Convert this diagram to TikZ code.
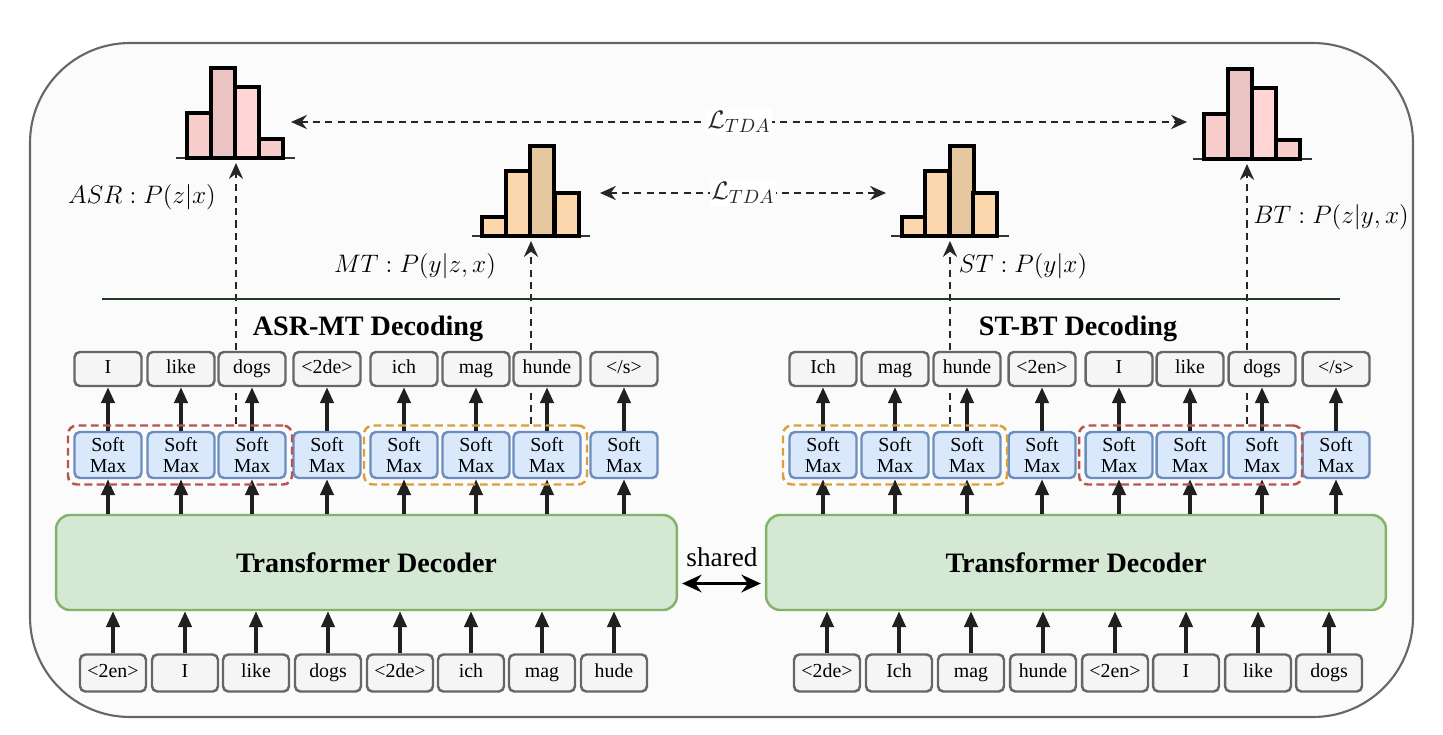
\documentclass[tikz,border=0pt]{standalone}
\usepackage{fontspec}
\setmainfont{Liberation Serif}
\usetikzlibrary{arrows.meta,positioning,calc,fit,backgrounds}

\definecolor{framefill}{HTML}{FBFBFB}
\definecolor{framedraw}{HTML}{666666}
\definecolor{tokfill}{HTML}{F5F5F5}
\definecolor{tokdraw}{HTML}{666666}
\definecolor{smfill}{HTML}{DAE8FC}
\definecolor{smdraw}{HTML}{6C8EBF}
\definecolor{decfill}{HTML}{D5E8D4}
\definecolor{decdraw}{HTML}{82B366}
\definecolor{grpred}{HTML}{B85450}
\definecolor{grporange}{HTML}{D9A03A}
\definecolor{rulegreen}{HTML}{213D21}
\definecolor{pinkA}{HTML}{F8CECC}
\definecolor{pinkB}{HTML}{EAC3C2}
\definecolor{pinkC}{HTML}{FFD5D5}
\definecolor{orangeA}{HTML}{FAD7AC}
\definecolor{orangeB}{HTML}{E6C8A0}

\begin{document}
\begin{tikzpicture}[x=0.02cm,y=-0.02cm,>={Stealth[length=9pt,width=8pt]},
	tok/.style={draw=tokdraw,fill=tokfill,line width=1.4pt,rounded corners=3pt,
		minimum width=1.34cm,minimum height=0.68cm,inner sep=0pt,
		text height=1.5ex,text depth=.3ex,
		font=\fontsize{11.3}{13}\selectfont},
	inbox/.style={tok,minimum width=1.32cm,minimum height=0.74cm},
	smbox/.style={draw=smdraw,fill=smfill,line width=1.4pt,rounded corners=3pt,
		minimum width=1.34cm,minimum height=0.92cm,inner sep=0pt,align=center,
		font=\fontsize{11.3}{12}\selectfont},
	decbox/.style={draw=decdraw,fill=decfill,line width=1.4pt,rounded corners=8pt,
		minimum height=1.9cm,font=\bfseries\fontsize{16}{19}\selectfont},
	grp/.style={dash pattern=on 4.5pt off 2.5pt,line width=1.4pt,rounded corners=5pt,inner sep=3pt},
	upar/.style={-{Triangle[length=9pt,width=7.5pt]},line width=2pt,black!88},
	dashar/.style={->,line width=1.5pt,dash pattern=on 4pt off 3pt,black!85},
	bar/.style={line width=2.2pt},
	mlab/.style={font=\fontsize{15}{18}\selectfont},
	head/.style={font=\bfseries\fontsize{16}{19}\selectfont}]
	
	\useasboundingbox (0,0) rectangle (1443,734);
	
	% ---- outer frame ----
	\begin{scope}[on background layer]
		\draw[framedraw,fill=framefill,line width=1.2pt,rounded corners=2cm]
		(30,43) rectangle (1413,717);
	\end{scope}
	
	% ---- histograms ----
	\begin{scope}[shift={(176,158)}]
		\draw[line width=1.3pt,black!80] (0,0) -- (119,0);
		\foreach \a/\h/\c in {11/45/pinkA,35/90/pinkB,59/71/pinkC,83/19/pinkA}
		\filldraw[bar,fill=\c] (\a,0) rectangle ++(24,-\h);
	\end{scope}
	\begin{scope}[shift={(1193,159)}]
		\draw[line width=1.3pt,black!80] (0,0) -- (119,0);
		\foreach \a/\h/\c in {11/45/pinkA,35/90/pinkB,59/71/pinkC,83/19/pinkA}
		\filldraw[bar,fill=\c] (\a,0) rectangle ++(24,-\h);
	\end{scope}
	\begin{scope}[shift={(472,236)}]
		\draw[line width=1.3pt,black!80] (0,0) -- (118,0);
		\foreach \a/\h/\c in {10/19/orangeA,34/65/orangeA,58/90/orangeB,83/43/orangeA}
		\filldraw[bar,fill=\c] (\a,0) rectangle ++(24,-\h);
	\end{scope}
	\begin{scope}[shift={(891,236)}]
		\draw[line width=1.3pt,black!80] (0,0) -- (118,0);
		\foreach \a/\h/\c in {11/19/orangeA,34/65/orangeA,59/90/orangeB,82/43/orangeA}
		\filldraw[bar,fill=\c] (\a,0) rectangle ++(24,-\h);
	\end{scope}
	
	% ---- arrow ends at the histograms ----
	\coordinate (asrT) at (236,163);
	\coordinate (mtT) at (531,241);
	\coordinate (stT) at (950,241);
	\coordinate (btT) at (1247,164);
	\coordinate (asrR) at (291,122);
	\coordinate (btL) at (1187,122);
	\coordinate (mtR) at (600,193);
	\coordinate (stL) at (886,193);
	
	% ---- TDA losses ----
	\draw[dash pattern=on 4pt off 3pt,line width=1.5pt,black!85,<->] (asrR) -- (btL)
	node[midway,fill=white,inner sep=1pt,mlab] (tda1) {$\mathcal{L}_{TDA}$};
	\draw[dash pattern=on 4pt off 3pt,line width=1.5pt,black!85,<->] (mtR) -- (stL)
	node[midway,fill=white,inner sep=1pt,mlab] (tda2) {$\mathcal{L}_{TDA}$};
	
	% ---- distribution labels ----
	\node[mlab] (lasr) at (142,197) {$ASR:P(z|x)$};
	\node[mlab] (lmt) at (415,266) {$MT:P(y|z,x)$};
	\node[mlab] (lst) at (1023,266) {$ST:P(y|x)$};
	\node[mlab] (lbt) at (1331,217) {$BT:P(z|y,x)$};
	
	% ---- separator ----
	\draw[rulegreen,line width=1.6pt] (102,299) -- (1340,299);
	
	\node[head] (hl) at (368,329) {ASR-MT Decoding};
	\node[head] (hr) at (1078,329) {ST-BT Decoding};
	
	% ---- decoders ----
	\node[decbox,minimum width=12.42cm] (decl) at (366.5,562.5) {Transformer Decoder};
	\node[decbox,minimum width=12.4cm] (decr) at (1076,562.5) {Transformer Decoder};
	
	\node[font=\fontsize{15.5}{18}\selectfont] (shr) at (722,557) {shared};
	\draw[<->,line width=1.8pt,>={Stealth[length=11pt,width=10pt]}]
	($(decl.east)+(4,21)$) -- ($(decr.west)+(-4,21)$);
	
	% ---- ASR-MT side ----
	\foreach \x/\t [count=\i] in {108/I,181/like,252/dogs,327/{<2de>},404/ich,476/mag,547/hunde,624/{</s>}}{
		\node[tok] (ol\i) at (\x,369) {\t};
		\node[smbox] (sl\i) at (\x,455) {Soft\\Max};
		\draw[upar] (sl\i) -- (ol\i);
		\draw[upar] (sl\i.south |- decl.north) -- (sl\i);
	}
	\foreach \x/\t [count=\i] in {113/{<2en>},185/I,256/like,328/dogs,400/{<2de>},471/ich,542/mag,614/hude}{
		\node[inbox] (il\i) at (\x,673) {\t};
		\draw[upar] (il\i) -- (il\i.north |- decl.south);
	}
	\node[grp,draw=grpred,fit=(sl1)(sl3)] (gl1) {};
	\node[grp,draw=grporange,fit=(sl5)(sl7)] (gl2) {};
	
	% ---- ST-BT side ----
	\foreach \x/\t [count=\i] in {823/Ich,895/mag,967/hunde,1042/{<2en>},1119/I,1190/like,1262/dogs,1336/{</s>}}{
		\node[tok] (or\i) at (\x,369) {\t};
		\node[smbox] (sr\i) at (\x,455) {Soft\\Max};
		\draw[upar] (sr\i) -- (or\i);
		\draw[upar] (sr\i.south |- decr.north) -- (sr\i);
	}
	\foreach \x/\t [count=\i] in {827/{<2de>},899/Ich,971/mag,1043/hunde,1115/{<2en>},1186/I,1258/like,1329/dogs}{
		\node[inbox] (ir\i) at (\x,673) {\t};
		\draw[upar] (ir\i) -- (ir\i.north |- decr.south);
	}
	\node[grp,draw=grporange,fit=(sr1)(sr3)] (gr1) {};
	\node[grp,draw=grpred,fit=(sr5)(sr7)] (gr2) {};
	
	% ---- dashed links to the distributions (behind the token boxes) ----
	\begin{scope}[on background layer]
		\draw[dashar] (gl1.north -| asrT) -- (asrT);
		\draw[dashar] (gl2.north -| mtT) -- (mtT);
		\draw[dashar] (gr1.north -| stT) -- (stT);
		\draw[dashar] (gr2.north -| btT) -- (btT);
	\end{scope}
	
\end{tikzpicture}
\end{document}
